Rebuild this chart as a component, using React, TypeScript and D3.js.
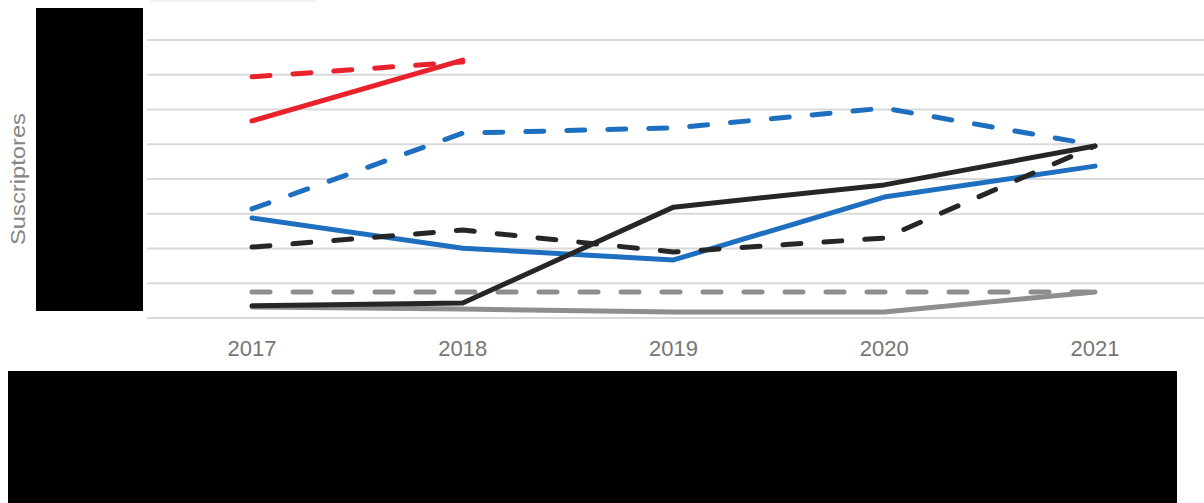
import React from "react";
import * as d3 from "d3";

const years = ["2017", "2018", "2019", "2020", "2021"];
const gridTicks = [0, 1, 2, 3, 4, 5, 6, 7, 8];

const graySolid = [0.32, 0.26, 0.17, 0.17, 0.75];
const grayDashed = [0.75, 0.75, 0.75, 0.75, 0.75];
const blueDashed = [3.14, 5.32, 5.47, 6.04, 4.98];
const blueSolid = [2.88, 2.01, 1.67, 3.48, 4.37];
const blackDashed = [2.04, 2.53, 1.9, 2.3, 4.95];
const blackSolid = [0.35, 0.43, 3.19, 3.83, 4.95];
const redDashed = [6.94, 7.37, null, null, null];
const redSolid = [5.67, 7.42, null, null, null];

const series = [
  { name: "Serie G", values: graySolid, color: "#8e8e90", dashed: false },
  { name: "Serie F", values: grayDashed, color: "#8e8e90", dashed: true },
  { name: "Serie B2", values: blueDashed, color: "#1f6fc0", dashed: true },
  { name: "Serie B1", values: blueSolid, color: "#1f6fc0", dashed: false },
  { name: "Serie K2", values: blackDashed, color: "#262626", dashed: true },
  { name: "Serie K1", values: blackSolid, color: "#262626", dashed: false },
  { name: "Serie R2", values: redDashed, color: "#e8222b", dashed: true },
  { name: "Serie R1", values: redSolid, color: "#e8222b", dashed: false },
];

export default function App() {
  const W = 1204;
  const H = 503;
  const x = d3.scalePoint<string>().domain(years).range([252, 1095]);
  const y = d3.scaleLinear().domain([0, 8]).range([318, 40]);

  const line = d3
    .line<number | null>()
    .defined((d) => d !== null)
    .x((_, i) => x(years[i]) as number)
    .y((d) => y(d as number));

  return (
    <svg
      width={W}
      height={H}
      style={{ position: "absolute", left: 0, top: 0, background: "#fff" }}
      fontFamily="Liberation Sans, Arial, sans-serif"
    >
      <rect x={0} y={0} width={W} height={H} fill="#fff" />
      <line x1={150} x2={316} y1={1} y2={1} stroke="#ececec" strokeWidth={1.5} />
      {gridTicks.map((t) => (
        <line key={t} x1={147} x2={W} y1={y(t)} y2={y(t)} stroke="#d9d9d9" strokeWidth={2} />
      ))}
      {series.map((s) => (
        <path
          key={s.name}
          d={line(s.values) || ""}
          fill="none"
          stroke={s.color}
          strokeWidth={5}
          strokeLinecap="round"
          strokeLinejoin="round"
          strokeDasharray={s.dashed ? "18,23" : undefined}
        />
      ))}
      {years.map((yr) => (
        <text
          key={yr}
          x={x(yr)}
          y={356}
          textAnchor="middle"
          fontSize={22}
          fill="#767676"
        >
          {yr}
        </text>
      ))}
      <text
        transform="translate(25,179) rotate(-90)"
        textAnchor="middle"
        fontSize={20}
        fill="#858585"
        textLength={132}
        lengthAdjust="spacingAndGlyphs"
      >
        Suscriptores
      </text>
      <rect x={36} y={8} width={107} height={303} fill="#000" />
      <rect x={8} y={371} width={1169} height={132} fill="#000" />
    </svg>
  );
}
